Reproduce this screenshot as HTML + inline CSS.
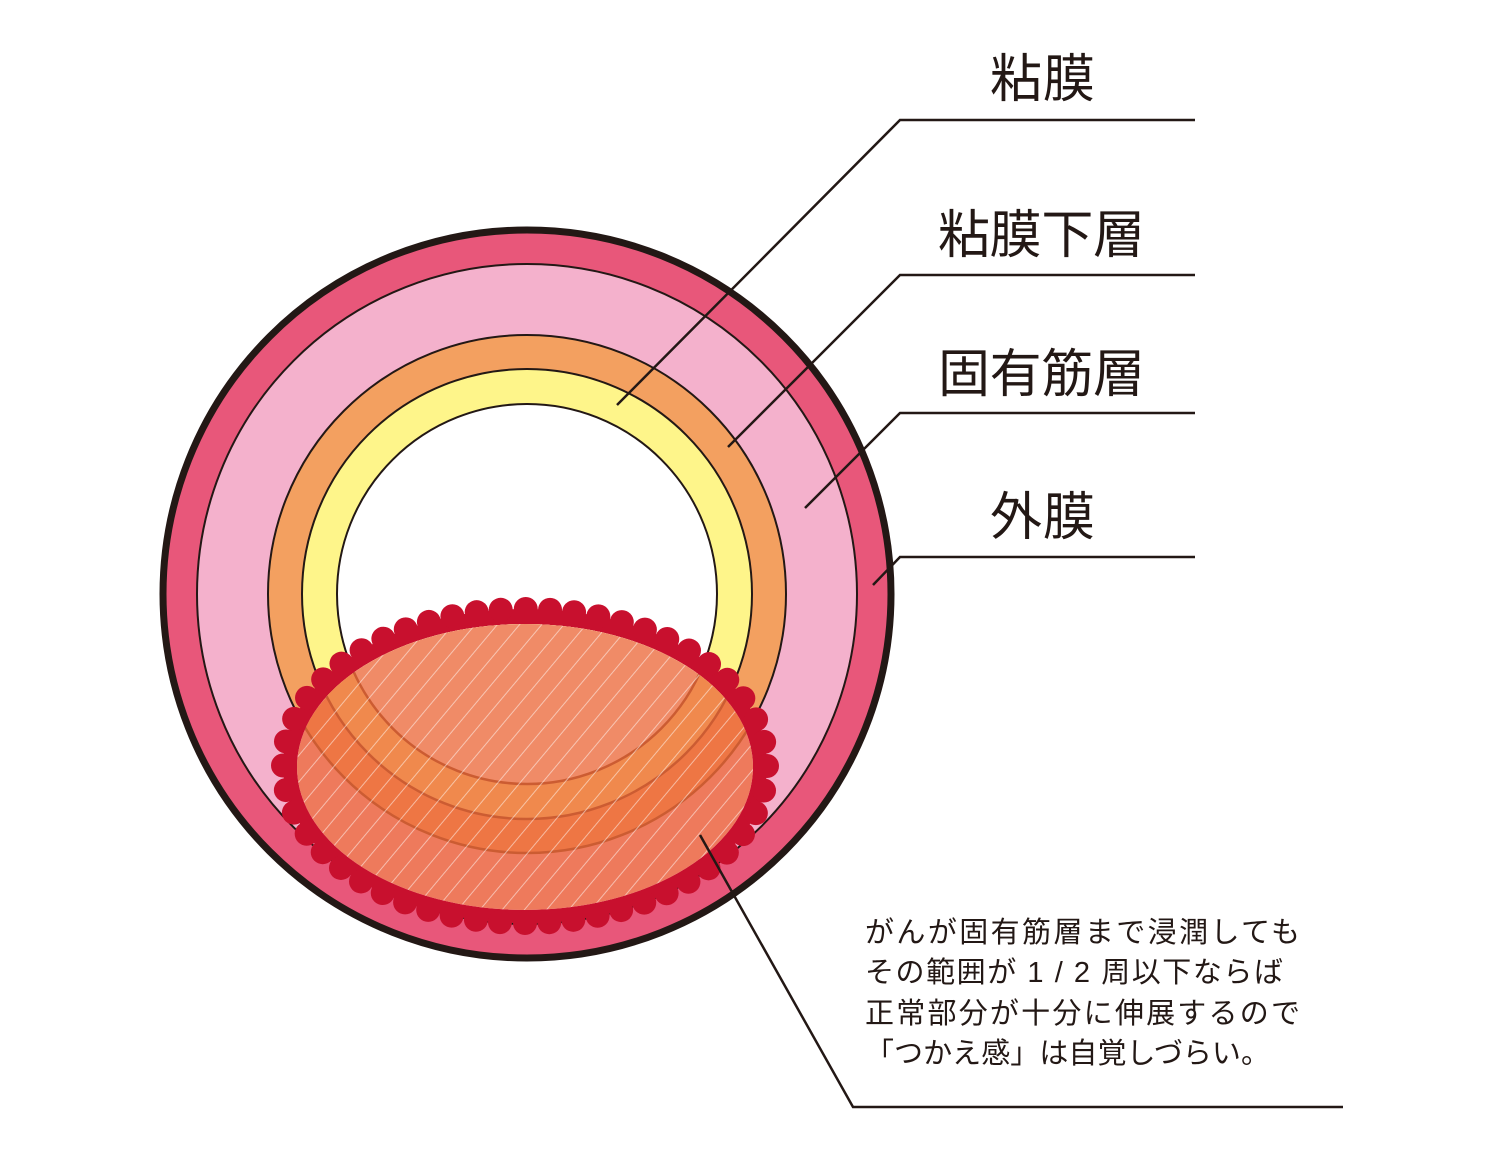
<!DOCTYPE html>
<html><head><meta charset="utf-8"><style>
html,body{margin:0;padding:0;background:#fff;}
svg{display:block;}
text{font-family:"Liberation Sans","Noto Sans CJK JP",sans-serif;fill:#231815;}
</style></head><body>
<svg id="s" width="1500" height="1155" viewBox="0 0 1500 1155" xmlns="http://www.w3.org/2000/svg">
<defs>
<pattern id="hatch" patternUnits="userSpaceOnUse" width="17" height="20" patternTransform="rotate(40)">
<line x1="0" y1="0" x2="0" y2="20" stroke="#fff" stroke-opacity="0.5" stroke-width="2"/>
</pattern>
<clipPath id="inner"><ellipse cx="525" cy="767" rx="228" ry="143"/></clipPath>
</defs>
<g id="rings">
<circle cx="527" cy="594" r="364" fill="#e8577a" stroke="#231815" stroke-width="7"/>
<circle cx="527" cy="594" r="330" fill="#f4b1cc" stroke="#231815" stroke-width="2"/>
<circle cx="527" cy="594" r="259" fill="#f3a060" stroke="#231815" stroke-width="2"/>
<circle cx="527" cy="594" r="225" fill="#fef58a" stroke="#231815" stroke-width="2"/>
<circle cx="527" cy="594" r="190" fill="#fff" stroke="#231815" stroke-width="2"/>
</g>
<g id="bumps" fill="#c8102e"></g>
<g clip-path="url(#inner)">
<circle cx="527" cy="594" r="364" fill="#e8577a"/>
<circle cx="527" cy="594" r="330" fill="#f4b1cc" stroke="#5a2a10" stroke-width="2.5"/>
<circle cx="527" cy="594" r="259" fill="#f3a060" stroke="#5a2a10" stroke-width="2.5"/>
<circle cx="527" cy="594" r="225" fill="#fef58a" stroke="#5a2a10" stroke-width="2.5"/>
<circle cx="527" cy="594" r="190" fill="#fff" stroke="#5a2a10" stroke-width="2.5"/>
<rect x="270" y="590" width="520" height="350" fill="#ec6a3c" fill-opacity="0.78"/>
<rect x="270" y="590" width="520" height="350" fill="url(#hatch)"/>
</g>
<g stroke="#231815" stroke-width="2.5" fill="none">
<polyline points="617,405 900,120 1195,120"/>
<polyline points="728,447 900,275 1195,275"/>
<polyline points="805,508 900,413 1195,413"/>
<polyline points="873,585 900,557 1195,557"/>
<polyline points="700,835 853,1107 1343,1107"/>
</g>
<g font-size="52">
<text x="990" y="97" textLength="105">粘膜</text>
<text x="938" y="253" textLength="207">粘膜下層</text>
<text x="938" y="392" textLength="207">固有筋層</text>
<text x="990" y="535" textLength="105">外膜</text>
</g>
<g font-size="29">
<text x="865" y="942" textLength="435">がんが固有筋層まで浸潤しても</text>
<text x="865" y="982" textLength="418">その範囲が 1 / 2 周以下ならば</text>
<text x="865" y="1023" textLength="435">正常部分が十分に伸展するので</text>
<text x="865" y="1063" textLength="405">「つかえ感」は自覚しづらい。</text>
</g>
</svg>
<script>
(function(){
var g=document.getElementById('bumps'),ns='http://www.w3.org/2000/svg';
var cx=525,cy=766,rx=242,ry=157,n=52;
var e=document.createElementNS(ns,'ellipse');
e.setAttribute('cx',cx);e.setAttribute('cy',cy);e.setAttribute('rx',rx);e.setAttribute('ry',ry);g.appendChild(e);
var pts=[],L=0,prev=null,N=2000;
for(var i=0;i<=N;i++){var t=i/N*2*Math.PI;var p=[cx+rx*Math.cos(t),cy+ry*Math.sin(t)];if(prev)L+=Math.hypot(p[0]-prev[0],p[1]-prev[1]);pts.push([p,L]);prev=p;}
var step=L/n,k=0;
for(var j=0;j<n;j++){var target=j*step;while(k<pts.length-1&&pts[k][1]<target)k++;
var c=document.createElementNS(ns,'circle');c.setAttribute('cx',pts[k][0][0]);c.setAttribute('cy',pts[k][0][1]);c.setAttribute('r',12);g.appendChild(c);}
})();
</script>
</body></html>
